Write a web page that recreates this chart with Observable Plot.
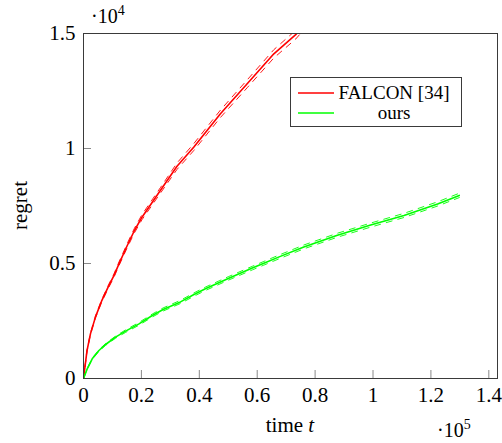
<!DOCTYPE html>
<html><head><meta charset="utf-8">
<script src="https://cdn.jsdelivr.net/npm/d3@7"></script>
<script src="https://cdn.jsdelivr.net/npm/@observablehq/plot@0.6"></script>
<style>
body{margin:0;background:#fff;}
#wrap{width:502px;height:443px;font-family:'Liberation Serif',serif;}
svg text{font-family:'Liberation Serif',serif;}
</style></head><body>
<div id="wrap"></div>
<script>
// ---- data ----
const xTicks = [0, 20000, 40000, 60000, 80000, 100000, 120000, 140000];
const xTickLabels = ["0", "0.2", "0.4", "0.6", "0.8", "1", "1.2", "1.4"];
const yTicks = [0, 5000, 10000, 15000];
const yTickLabels = ["0", "0.5", "1", "1.5"];

const seriesNames = ["FALCON [34]", "ours"];
const seriesColors = ["#ff0000", "#00ff00"];

const falconT = [0, 1200, 2400, 4150, 6200, 8500, 10500, 12250, 15000, 17600, 20200, 26540, 32300, 38060, 47300, 56540, 65750, 73300, 76000];
const falconMean = [0, 1200, 1940, 2680, 3350, 3970, 4470, 4985, 5750, 6435, 7014, 8174, 9230, 10057, 11509, 12812, 14117, 14950, 15350];
const falconSpread = [0, 25, 35, 45, 55, 65, 75, 80, 90, 100, 110, 120, 140, 150, 160, 170, 180, 190, 200];

const oursT = [0, 1280, 3010, 5330, 7610, 11070, 14530, 19170, 23770, 27500, 33500, 38000, 42100, 50200, 58300, 62300, 68000, 76100, 87700, 99200, 110700, 122300, 129800];
const oursMean = [0, 420, 857, 1217, 1478, 1797, 2058, 2377, 2739, 3000, 3330, 3640, 3900, 4360, 4800, 5010, 5310, 5720, 6230, 6670, 7090, 7590, 7960];
const oursSpread = [0, 15, 25, 35, 40, 45, 55, 60, 65, 68, 70, 72, 74, 76, 78, 80, 82, 84, 86, 88, 90, 92, 94];

// ---- tables ----
const falcon = falconT.map((t, i) => ({t, mean: falconMean[i], hi: falconMean[i] + falconSpread[i], lo: falconMean[i] - falconSpread[i]}));
const ours = oursT.map((t, i) => ({t, mean: oursMean[i], hi: oursMean[i] + oursSpread[i], lo: oursMean[i] - oursSpread[i]}));

const W = 502, H = 443, ML = 83, MR = 5, MT = 33, MB = 65;
const frameW = W - ML - MR, frameH = H - MT - MB;
const FONT = "'Liberation Serif', serif";

const dashed = {strokeWidth: 0.9, strokeDasharray: "6,6", clip: true};
const solid = {strokeWidth: 1.6, clip: true};

const chart = Plot.plot({
  width: W, height: H,
  marginLeft: ML, marginRight: MR, marginTop: MT, marginBottom: MB,
  style: {fontFamily: FONT, fontSize: "21px", background: "white", overflow: "visible"},
  x: {domain: [0, 143000]},
  y: {domain: [0, 15000]},
  marks: [
    Plot.axisX(xTicks, {tickSize: 0, tickPadding: 9, fontSize: 21, label: null,
      tickFormat: d => xTickLabels[xTicks.indexOf(d)]}),
    Plot.axisY(yTicks, {tickSize: 0, tickPadding: 8, fontSize: 21, label: null,
      tickFormat: d => yTickLabels[yTicks.indexOf(d)]}),
    Plot.tickX(xTicks, {x: d => d, stroke: "#8a8a8a", insetTop: frameH - 8}),
    Plot.tickY(yTicks, {y: d => d, stroke: "#8a8a8a", insetRight: frameW - 8}),
    Plot.line(falcon, {x: "t", y: "hi", stroke: seriesColors[0], ...dashed}),
    Plot.line(falcon, {x: "t", y: "lo", stroke: seriesColors[0], ...dashed}),
    Plot.line(ours, {x: "t", y: "hi", stroke: seriesColors[1], ...dashed}),
    Plot.line(ours, {x: "t", y: "lo", stroke: seriesColors[1], ...dashed}),
    Plot.line(falcon, {x: "t", y: "mean", stroke: seriesColors[0], ...solid}),
    Plot.line(ours, {x: "t", y: "mean", stroke: seriesColors[1], ...solid}),
    Plot.frame({stroke: "#3a3a3a", strokeWidth: 1})
  ]
});

document.getElementById("wrap").appendChild(chart);

// ---- annotations: axis labels, exponents, legend ----
const svg = d3.select(chart);
const g = svg.append("g").style("font-family", FONT).attr("fill", "black").attr("text-anchor", "start");

g.append("text").attr("transform", `translate(27,${MT + frameH / 2}) rotate(-90)`)
  .attr("text-anchor", "middle").attr("font-size", 21).text("regret");

const xl = g.append("text").attr("x", ML + frameW / 2).attr("y", 432)
  .attr("text-anchor", "middle").attr("font-size", 21);
xl.append("tspan").text("time ");
xl.append("tspan").attr("font-style", "italic").text("t");

function expo(x, y, p) {
  const t = g.append("text").attr("x", x).attr("y", y).attr("font-size", 20).attr("text-anchor", "start");
  t.append("tspan").text("\u00B710");
  t.append("tspan").attr("font-size", 14).attr("dy", -8).text(p);
}
expo(91, 23, "4");
expo(437, 437, "5");

const lg = g.append("g");
lg.append("rect").attr("x", 290.5).attr("y", 77.5).attr("width", 171).attr("height", 49)
  .attr("fill", "white").attr("stroke", "#3a3a3a").attr("stroke-width", 1);
[93, 113].forEach((yy, i) => {
  lg.append("line").attr("x1", 298).attr("x2", 334).attr("y1", yy).attr("y2", yy)
    .attr("stroke", seriesColors[i]).attr("stroke-width", 1.6);
  lg.append("text").attr("x", 394).attr("y", yy + 6).attr("text-anchor", "middle")
    .attr("font-size", 19).text(seriesNames[i]);
});
</script>
</body></html>
